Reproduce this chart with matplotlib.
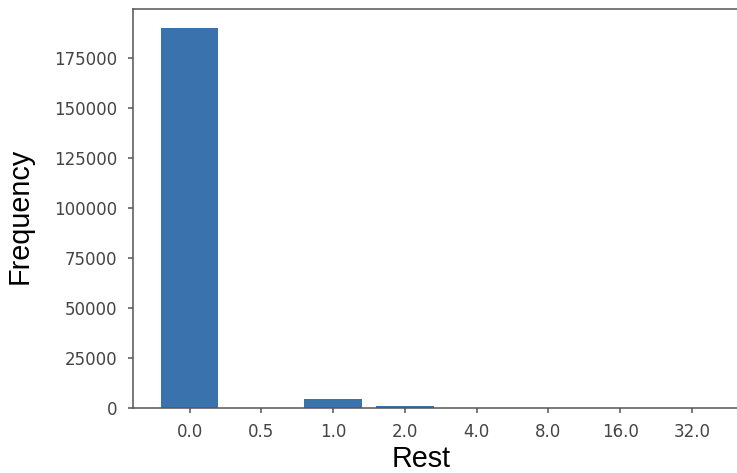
import numpy as np
from matplotlib import pyplot as plt

# Categorias do eixo x e frequências
rest_labels = ['0.0', '0.5', '1.0', '2.0', '4.0', '8.0', '16.0', '32.0']
frequency = [190100, 0, 4650, 1150, 150, 60, 20, 5]

fig = plt.figure(figsize = (7.37, 4.73), dpi = 100)
# eixo direito fica fora da imagem (recortada na referência)
ax = fig.add_axes([133 / 737, 64.7 / 473, 615.5 / 737, 399.3 / 473])

x = np.arange(len(rest_labels))
ax.bar(x, frequency, width = 0.8, color = '#3a72ad')

ax.set_xticks(x)
ax.set_xticklabels(rest_labels)
ax.set_yticks(np.arange(0, 200000, 25000))

# Estilo dos eixos
for side in ['left', 'bottom', 'top', 'right']:
    ax.spines[side].set_color('#555555')
    ax.spines[side].set_linewidth(1.1)
ax.tick_params(colors = '#555555', labelcolor = '#444444', labelsize = 12,
               length = 3.6, width = 1.1)
ax.tick_params(axis = 'x', pad = 7)
ax.tick_params(axis = 'y', pad = 8)

ax.set_xlabel('Rest', fontsize = 20.7, family = 'Liberation Sans')
ax.set_ylabel('Frequency', fontsize = 20.7, family = 'Liberation Sans')
ax.xaxis.set_label_coords(0.468, -0.091)
ax.yaxis.set_label_coords(-0.1617, 0.483)

plt.savefig('out.png', dpi = 100)
